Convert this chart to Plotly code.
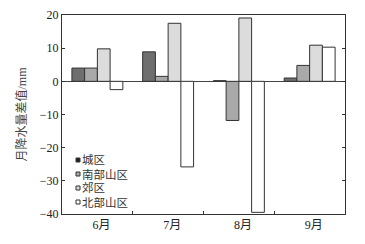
import plotly.graph_objects as go

months = ["6月", "7月", "8月", "9月"]
series_names = ["城区", "南部山区", "郊区", "北部山区"]
chengqu = [4.0, 8.9, 0.2, 1.0]
nanbu = [4.0, 1.5, -11.8, 4.8]
jiaoqu = [9.8, 17.5, 19.1, 10.9]
beibu = [-2.5, -25.8, -39.5, 10.3]
yticks = [20, 10, 0, -10, -20, -30, -40]
ytick_text = ["20", "10", "0", "\u221210", "\u221220", "\u221230", "\u221240"]

colors = ["#6e6e6e", "#a9a9a9", "#dcdcdc", "#ffffff"]
swatch_colors = ["#222222", "#a9a9a9", "#dcdcdc", "#ffffff"]
values = [chengqu, nanbu, jiaoqu, beibu]

font = "Liberation Serif, Noto Sans CJK SC, serif"

W, H = 365, 244
ML, MR, MT, MB = 62, 20, 15, 30
pw, ph = W - ML - MR, H - MT - MB

fig = go.Figure()
for name, vals, c in zip(series_names, values, colors):
    fig.add_trace(go.Bar(x=months, y=vals, name=name, showlegend=False,
                         marker=dict(color=c, line=dict(color="#333333", width=1))))

# legend drawn inside plot, bottom-left (swatch squares + text)
leg_x_px, leg_top_px, leg_step_px, sw = 76, 160, 14, 4
for i, (name, c) in enumerate(zip(series_names, swatch_colors)):
    cy = MT + ph - (leg_top_px + i * leg_step_px)  # px from plot bottom
    fig.add_shape(type="rect", xref="paper", yref="paper",
                  x0=(leg_x_px - ML) / pw, x1=(leg_x_px + sw - ML) / pw,
                  y0=(cy - sw / 2) / ph, y1=(cy + sw / 2) / ph,
                  fillcolor=c, line=dict(color="#333333", width=1), layer="above")
    fig.add_annotation(text=name, xref="paper", yref="paper",
                       x=(leg_x_px + sw + 0.5 - ML) / pw, y=cy / ph,
                       xanchor="left", yanchor="middle", showarrow=False,
                       borderpad=0, font=dict(size=11.5, color="#333333"))

fig.update_layout(
    width=W, height=H,
    margin=dict(l=ML, r=MR, t=MT, b=MB, autoexpand=False),
    paper_bgcolor="white", plot_bgcolor="white",
    barmode="group", bargap=0.28, bargroupgap=0,
    font=dict(family=font, size=12, color="#222222"),
    showlegend=False,
)
fig.update_xaxes(showline=True, linecolor="#333333", linewidth=1, mirror=True,
                 ticks="inside", ticklen=3, tickson="boundaries", tickcolor="#333333",
                 showgrid=False, tickfont=dict(size=12), automargin=False,
                 ticklabelshift=4)
fig.update_yaxes(range=[-40, 20], tickvals=yticks, ticktext=ytick_text,
                 showline=True, linecolor="#333333", linewidth=1, mirror="ticks",
                 ticks="inside", ticklen=3, tickcolor="#333333",
                 showgrid=False, zeroline=True, zerolinecolor="#444444", zerolinewidth=1,
                 title=dict(text="月降水量差值/mm", font=dict(size=12, color="#444444"), standoff=10),
                 tickfont=dict(size=12), automargin=False)

fig.write_html("out.html", config={"displayModeBar": False},
               post_script="document.body.style.margin='0';")
